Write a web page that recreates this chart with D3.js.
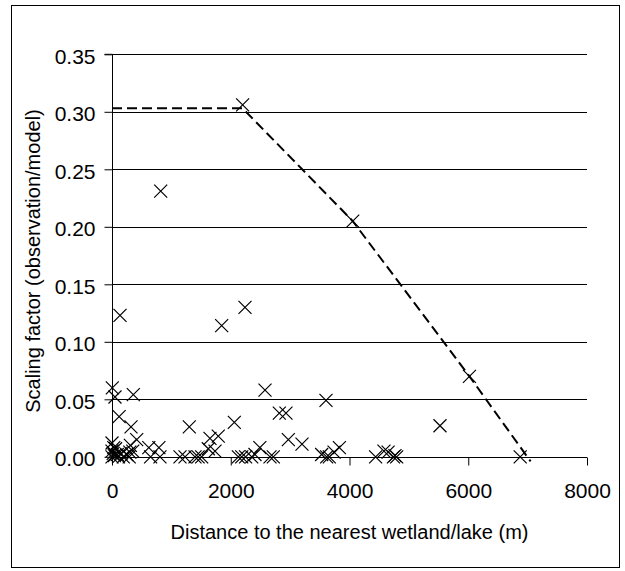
<!DOCTYPE html>
<html>
<head>
<meta charset="utf-8">
<script src="https://cdn.jsdelivr.net/npm/d3@7"></script>
<style>
  html, body { margin: 0; padding: 0; background: #fff; }
  svg { display: block; }
  text { font-family: "Liberation Sans", Arial, sans-serif; fill: #000; }
</style>
</head>
<body>
<svg id="chart" width="625" height="571"></svg>
<script>
// Observed scaling factors vs. distance to nearest wetland/lake
const distance = [
  2200, 4054, 6020, 6875, 820, 135, 2240, 1847, 5, 50,
  359, 2577, 3604, 2818, 2930, 120, 320, 1302, 2060, 5524,
  2970, 3200, 1650, 1790, 416, 310, 0, 620, 790, 2490,
  3830, 1622, 1735, 3740, 4580, 4650, 2408, 3531, 4766,
  650, 808, 1145, 1230, 1398, 1450, 1510, 2128, 2185, 2250,
  2353, 2661, 2717, 3615, 3660, 4440, 4795, 4740,
  0, 20, 40, 60, 90, 110, 150, 190, 247, 290, 350, 0, 30, 300
];
const scaling = [
  0.306, 0.205, 0.070, 0.000, 0.231, 0.123, 0.130, 0.114, 0.060, 0.052,
  0.054, 0.058, 0.049, 0.038, 0.038, 0.035, 0.026, 0.026, 0.030, 0.027,
  0.015, 0.011, 0.016, 0.018, 0.015, 0.010, 0.012, 0.008, 0.008, 0.008,
  0.008, 0.007, 0.005, 0.004, 0.005, 0.004, 0.002, 0.002, 0.001,
  0.000, 0.000, 0.000, 0.000, 0.000, 0.000, 0.000, 0.000, 0.000, 0.000,
  0.000, 0.000, 0.000, 0.000, 0.000, 0.000, 0.000, 0.000,
  0.005, 0.003, 0.001, 0.007, 0.002, 0.000, 0.003, 0.000, 0.002, 0.000, 0.005, 0.000, 0.008, 0.004
];
// Upper envelope (dashed line)
const envelopeX = [0, 2200, 4054, 6020, 7050];
const envelopeY = [0.303, 0.303, 0.205, 0.070, -0.004];

const xTicks = [0, 2000, 4000, 6000, 8000];
const yTicks = [0, 0.05, 0.10, 0.15, 0.20, 0.25, 0.30, 0.35];
const xTitle = "Distance to the nearest wetland/lake (m)";
const yTitle = "Scaling factor (observation/model)";

const svg = d3.select("#chart");
const margin = { left: 112, right: 587, top: 54.3, bottom: 456.8 };

const x = d3.scaleLinear().domain([0, 8000]).range([margin.left, margin.right]);
const y = d3.scaleLinear().domain([0, 0.35]).range([margin.bottom, margin.top]);

// outer frame
svg.append("rect")
  .attr("x", 11.5).attr("y", 5.5).attr("width", 608).attr("height", 562)
  .attr("fill", "none").attr("stroke", "#000").attr("stroke-width", 1);

// gridlines
svg.append("g").selectAll("line")
  .data(yTicks.filter(d => d > 0))
  .join("line")
  .attr("x1", margin.left).attr("x2", margin.right)
  .attr("y1", d => Math.round(y(d)) + 0.5).attr("y2", d => Math.round(y(d)) + 0.5)
  .attr("stroke", "#000").attr("stroke-width", 1);

// y axis
const yAxis = d3.axisLeft(y).tickValues(yTicks).tickSize(8).tickPadding(9)
  .tickFormat(d3.format(".2f"));
const gy = svg.append("g").attr("transform", `translate(${margin.left + 0.5},0)`).call(yAxis);
gy.select(".domain").attr("stroke", "#000").attr("d", `M-8,${y(0.35)}H0V${y(0)}`);
gy.selectAll(".tick line").attr("stroke", "#000");
gy.selectAll(".tick text").style("font-size", "21px")
  .style("font-family", '"Liberation Sans", Arial, sans-serif')
  .attr("dy", "0.42em");

// x axis
const xAxis = d3.axisBottom(x).tickValues(xTicks).tickSize(8).tickPadding(18)
  .tickFormat(d3.format("d"));
const gx = svg.append("g").attr("transform", `translate(0,${Math.round(y(0)) + 0.5})`).call(xAxis);
gx.select(".domain").attr("stroke", "#000").attr("d", `M${x(0)},0H${x(8000)}`);
gx.selectAll(".tick line").attr("stroke", "#000");
gx.selectAll(".tick text").style("font-size", "21px")
  .style("font-family", '"Liberation Sans", Arial, sans-serif');

// titles
svg.append("text")
  .attr("x", (margin.left + margin.right) / 2).attr("y", 539)
  .attr("text-anchor", "middle").style("font-size", "20px")
  .text(xTitle);
svg.append("text")
  .attr("transform", `translate(40,261) rotate(-90)`)
  .attr("text-anchor", "middle").style("font-size", "20px")
  .text(yTitle);

// dashed envelope line
const envData = envelopeX.map((d, i) => [d, envelopeY[i]]);
svg.append("path")
  .datum(envData)
  .attr("fill", "none").attr("stroke", "#000").attr("stroke-width", 2)
  .attr("stroke-dasharray", "10,5")
  .attr("d", d3.line().x(d => x(d[0])).y(d => y(d[1])));

// X markers
const pts = distance.map((d, i) => ({ x: d, y: scaling[i] }));
const s = 6.5;
svg.append("g").selectAll("path")
  .data(pts)
  .join("path")
  .attr("fill", "none").attr("stroke", "#000").attr("stroke-width", 1.2)
  .attr("d", d => {
    const cx = x(d.x), cy = y(d.y);
    return `M${cx - s},${cy - s}L${cx + s},${cy + s}M${cx - s},${cy + s}L${cx + s},${cy - s}`;
  });
</script>
</body>
</html>
